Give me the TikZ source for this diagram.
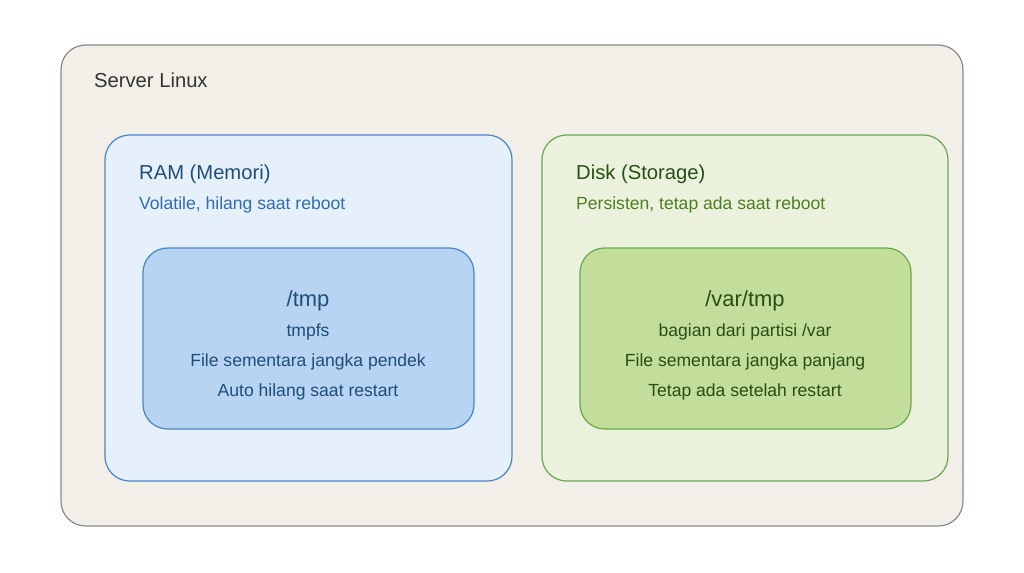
\documentclass[tikz,border=0pt]{standalone}
\usepackage{fontspec}
\setmainfont{Liberation Sans}
\usetikzlibrary{positioning}
\definecolor{srvfill}{HTML}{F2EFE9}
\definecolor{srvdraw}{HTML}{8A8A8A}
\definecolor{ramfill}{HTML}{E6F0FA}
\definecolor{ramdraw}{HTML}{4A86C8}
\definecolor{ramin}{HTML}{B7D4F2}
\definecolor{ramtxt}{HTML}{1F4E79}
\definecolor{ramsub}{HTML}{2F6DB5}
\definecolor{dskfill}{HTML}{EAF2DD}
\definecolor{dskdraw}{HTML}{6AA84F}
\definecolor{dskin}{HTML}{C3DE9A}
\definecolor{dsktxt}{HTML}{274E13}
\definecolor{dsksub}{HTML}{4F7F1F}
\tikzset{box/.style={rounded corners=14pt, line width=0.7pt},
  title/.style={anchor=west, font=\fontsize{11.5}{14}\selectfont},
  sub/.style={anchor=west, font=\fontsize{10}{12}\selectfont},
  line/.style={font=\fontsize{10}{12}\selectfont}}
\begin{document}
\begin{tikzpicture}[x=0.02cm,y=-0.02cm]
 \useasboundingbox (0,0) rectangle (1024,572);
 %Server
 \draw[box, fill=srvfill, draw=srvdraw] (61,45) rectangle (963,526);
 \node[title, text=black!80] (srv) at (88,80) {Server Linux};

 %RAM
 \draw[box, fill=ramfill, draw=ramdraw] (105,135) rectangle (512,481);
 \node[title, text=ramtxt] (ram) at (133,174) {RAM (Memori)};
 \node[sub, text=ramsub] (ramsub) at (133,205) {Volatile, hilang saat reboot};
 \draw[box, fill=ramin, draw=ramdraw] (143,248) rectangle (474,429);
 \node[font=\fontsize{12.5}{14}\selectfont, text=ramtxt] (tmp) at (308,301) {/tmp};
 \node[line, text=ramtxt] (tmp1) at (308,332) {tmpfs};
 \node[line, text=ramtxt] (tmp2) at (308,362) {File sementara jangka pendek};
 \node[line, text=ramtxt] (tmp3) at (308,392) {Auto hilang saat restart};

 %Disk
 \draw[box, fill=dskfill, draw=dskdraw] (542,135) rectangle (948,481);
 \node[title, text=dsktxt] (dsk) at (570,174) {Disk (Storage)};
 \node[sub, text=dsksub] (dsksub) at (570,205) {Persisten, tetap ada saat reboot};
 \draw[box, fill=dskin, draw=dskdraw] (580,248) rectangle (911,429);
 \node[font=\fontsize{12.5}{14}\selectfont, text=dsktxt] (vtmp) at (745,301) {/var/tmp};
 \node[line, text=dsktxt] (vtmp1) at (745,332) {bagian dari partisi /var};
 \node[line, text=dsktxt] (vtmp2) at (745,362) {File sementara jangka panjang};
 \node[line, text=dsktxt] (vtmp3) at (745,392) {Tetap ada setelah restart};
\end{tikzpicture}
\end{document}
